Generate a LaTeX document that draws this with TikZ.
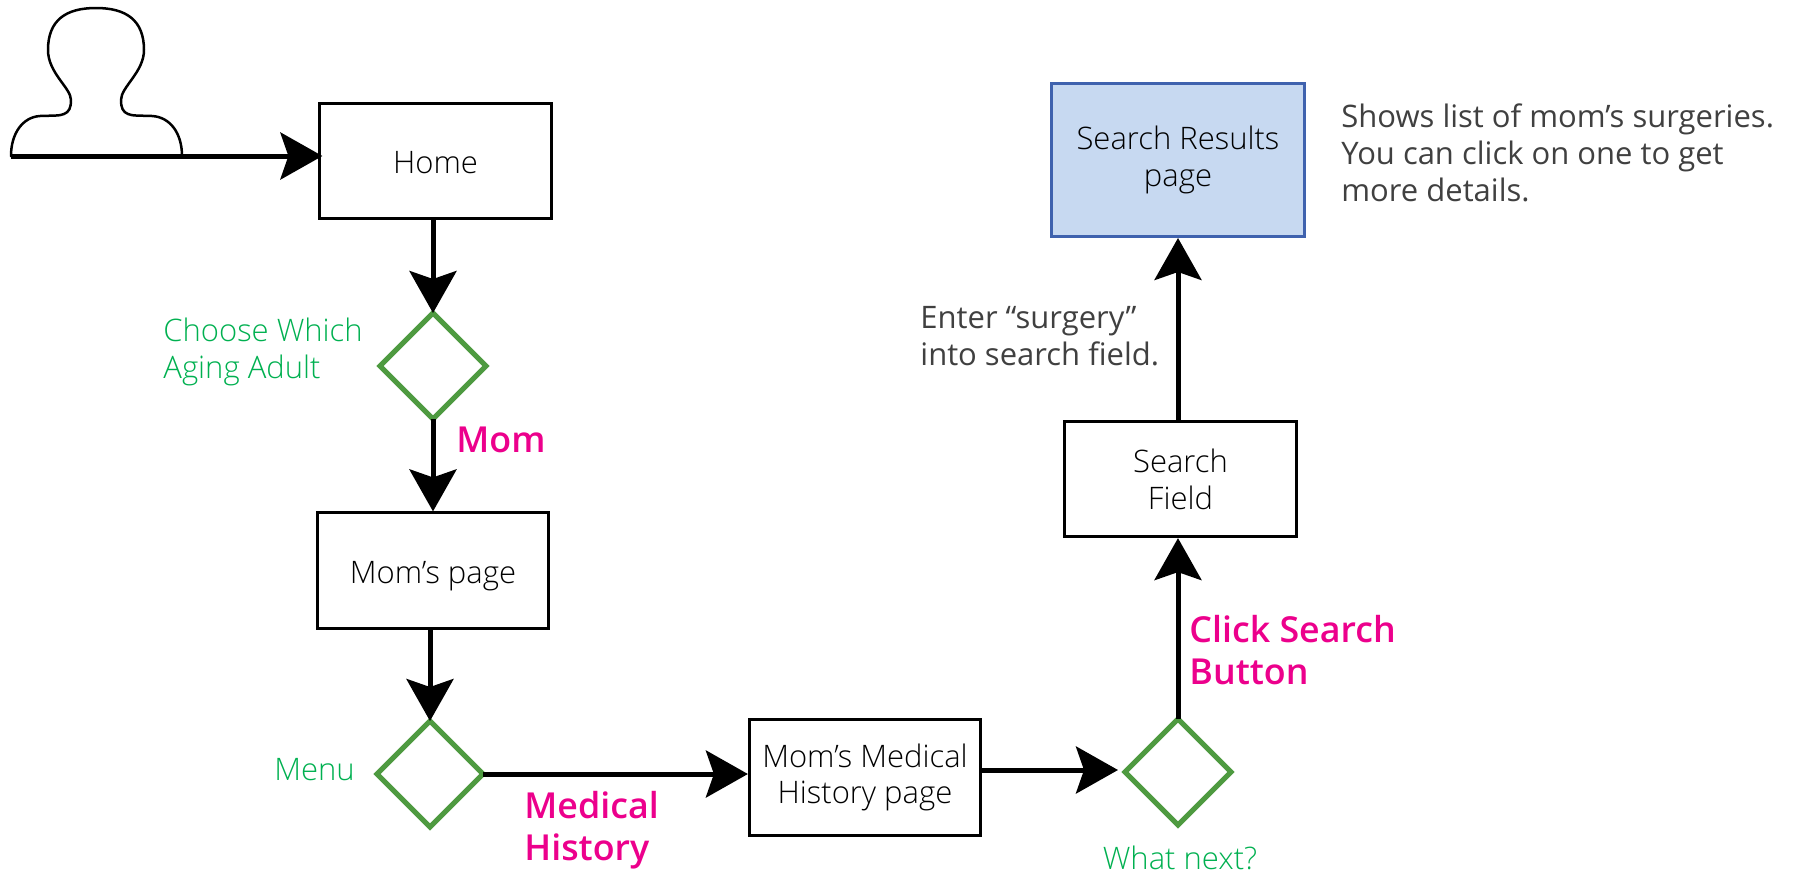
\documentclass[tikz,border=0pt]{standalone}
\usepackage{fontspec}
\setmainfont{Open Sans}
\newfontfamily\lightfont{Open Sans Light}
\newfontfamily\semifont{Open Sans Semibold}
\usetikzlibrary{arrows.meta,shapes.geometric}
\definecolor{greenline}{HTML}{4E9A40}
\definecolor{greentext}{HTML}{00B050}
\definecolor{pinktext}{HTML}{EC008C}
\definecolor{greytext}{HTML}{404040}
\definecolor{bluefill}{HTML}{C7D9F1}
\definecolor{blueline}{HTML}{3F62AE}
\newcommand{\bodysize}{\fontsize{15.5}{18.4}\selectfont}
\begin{document}
\begin{tikzpicture}[x=0.5pt,y=-0.5pt]
\tikzstyle{page}=[draw=black,line width=1.5pt,minimum width=115.6pt,minimum height=57.6pt,inner sep=0pt,align=center,font=\bodysize\lightfont,text=black]
\tikzstyle{oneline}=[text height=14pt,text depth=1.3pt]
\tikzstyle{choice}=[diamond,draw=greenline,line width=2.5pt,minimum width=53pt,minimum height=53pt,inner sep=0pt,outer sep=0pt]
\tikzstyle{link}=[draw=black,line width=2.5pt,-{Stealth[length=21pt,width=23.5pt,inset=4pt]}]
\tikzstyle{asklabel}=[inner sep=0pt,text=greentext,align=left,font=\bodysize\lightfont]
\tikzstyle{picklabel}=[inner sep=0pt,text=pinktext,align=left,font=\fontsize{17.9}{21}\selectfont\semifont]
\tikzstyle{notelabel}=[inner sep=0pt,text=greytext,align=left,font=\bodysize]
\useasboundingbox (0,0) rectangle (1796,874);

% pages
\node[page,oneline] (home) at (435.5,161) {Home};
\node[page,oneline] (moms) at (433,570.5) {Mom’s page};
\node[page] (history) at (865,777.5) {Mom’s Medical\\History page};
\node[page] (field) at (1180.5,479) {Search\\Field};
\node[page,draw=blueline,fill=bluefill,minimum width=126.5pt,minimum height=76.5pt] (results) at (1178,160) {Search Results\\page};

% choices
\node[choice] (which) at (433,366) {};
\node[choice] (menu) at (430,774) {};
\node[choice] (next) at (1178,772) {};

% user
\coordinate (userbase) at (11,156);
\draw[line width=1.25pt,line join=round] (userbase)
  .. controls (11,133) and (23,117) .. (40,116)
  .. controls (52,115.5) and (60,116) .. (64,114)
  .. controls (69,112) and (71,108) .. (71,100)
  .. controls (71,88) and (48,73) .. (48,50)
  .. controls (48,20) and (66,8) .. (96,8)
  .. controls (126,8) and (144,20) .. (144,50)
  .. controls (144,72) and (121,87) .. (121,100)
  .. controls (121,108) and (123,112) .. (128,114)
  .. controls (132,116) and (140,115.5) .. (152,116)
  .. controls (170,117) and (182,133) .. (182,156) -- cycle;

% connectors
\draw[link,shorten >=-2pt] (userbase) -- (userbase -| home.west);
\draw[link] (which.north |- home.south) -- (which.north);
\draw[link] (which.south) -- (moms.north);
\draw[link] (menu.north |- moms.south) -- (menu.north);
\draw[link] (menu.east) -- (menu.east -| history.west);
\draw[link] (history.east |- 0,770) -- (1118,770);
\draw[link] (next.north) -- (next.north |- field.south);
\draw[link] (next.north |- field.north) -- (next.north |- results.south);

% labels
\node[asklabel,anchor=west] (whichtext) at (163,352) {Choose Which\\Aging Adult};
\node[asklabel,anchor=west] (menutext) at (274,770) {Menu};
\node[asklabel,align=center] (nexttext) at (1180,858) {What next?};
\node[picklabel,anchor=west] (momtext) at (456,440) {Mom};
\node[picklabel,anchor=west] (medicaltext) at (524,830) {Medical\\History};
\node[picklabel,anchor=west] (clicktext) at (1189,650) {Click Search\\Button};
\node[notelabel,anchor=west] (entertext) at (920,336) {Enter “surgery”\\into search field.};
\node[notelabel,anchor=west] (showstext) at (1341,153) {Shows list of mom’s surgeries.\\You can click on one to get\\more details.};
\end{tikzpicture}
\end{document}
